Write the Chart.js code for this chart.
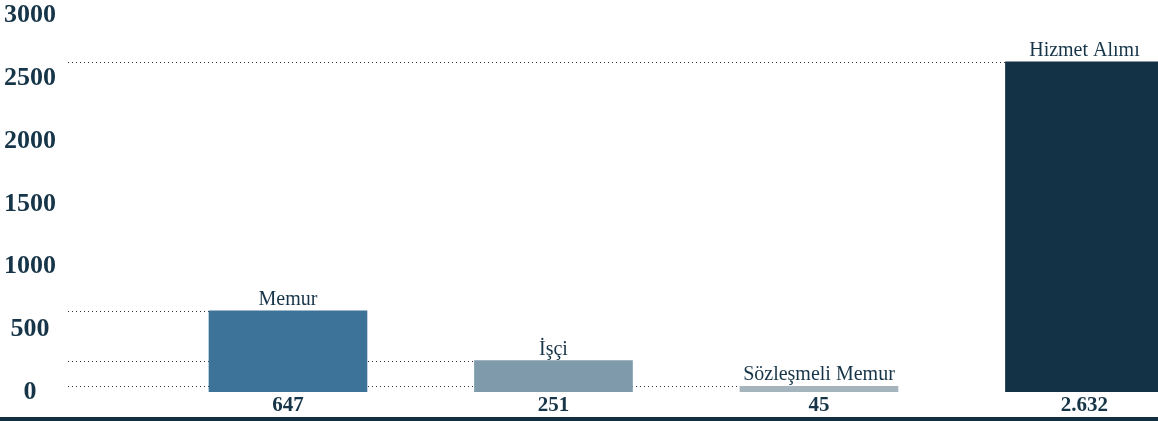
<!DOCTYPE html>
<html>
<head>
<meta charset="utf-8">
<script src="https://cdn.jsdelivr.net/npm/chart.js@4.4.1/dist/chart.umd.min.js"></script>
<style>
  html, body { margin: 0; padding: 0; background: #fff; overflow: hidden; }
  #wrap { width: 1158px; height: 421px; position: relative; }
</style>
</head>
<body>
<div id="wrap"><canvas id="chart"></canvas></div>
<script>
// Data
const categories = ['Memur', 'İşçi', 'Sözleşmeli Memur', 'Hizmet Alımı'];
const values = [647, 251, 45, 2632];
const barColors = ['#3d7398', '#7f9aab', '#a6b4bd', '#133246'];
const yTicks = [0, 500, 1000, 1500, 2000, 2500, 3000];

const TEXT = '#173548';
const SERIF = "'Liberation Serif', 'DejaVu Serif', serif";

function fmt(n) {
    return n.toString().replace(/\B(?=(\d{3})+(?!\d))/g, '.');
}

// dotted guide lines from the left edge to each bar top
const guideLines = {
    id: 'guideLines',
    beforeDatasetsDraw(chart) {
        const ctx = chart.ctx;
        const left = chart.chartArea.left;
        const meta = chart.getDatasetMeta(0);
        ctx.save();
        ctx.strokeStyle = '#333';
        ctx.lineWidth = 1;
        ctx.setLineDash([1, 3]);
        meta.data.forEach(bar => {
            const y = Math.round(bar.y) + 0.5;
            ctx.beginPath();
            ctx.moveTo(left, y);
            ctx.lineTo(bar.x - bar.width / 2, y);
            ctx.stroke();
        });
        ctx.restore();
    }
};

// category names above bars, values below
const barLabels = {
    id: 'barLabels',
    afterDatasetsDraw(chart) {
        const ctx = chart.ctx;
        const meta = chart.getDatasetMeta(0);
        const bottom = chart.chartArea.bottom;
        ctx.save();
        ctx.fillStyle = TEXT;
        ctx.textAlign = 'center';
        meta.data.forEach((bar, i) => {
            ctx.font = '20px ' + SERIF;
            ctx.textBaseline = 'alphabetic';
            ctx.fillText(categories[i], bar.x, bar.y - 6);
            ctx.font = 'bold 21px ' + SERIF;
            ctx.textBaseline = 'middle';
            ctx.fillText(fmt(values[i]), bar.x, bottom + 14);
        });
        // thick baseline at the very bottom
        ctx.fillStyle = '#12303f';
        ctx.fillRect(0, chart.height - 4, chart.width, 4);
        ctx.restore();
    }
};

const ctx = document.getElementById('chart').getContext('2d');
new Chart(ctx, {
    type: 'bar',
    data: {
        datasets: [{
            data: values.map((v, i) => ({ x: i, y: v })),
            backgroundColor: barColors,
            barThickness: 158,
            borderWidth: 0
        }]
    },
    options: {
        responsive: true,
        maintainAspectRatio: false,
        animation: false,
        layout: { padding: { top: 0, bottom: 29, left: 0, right: 0 } },
        plugins: {
            legend: { display: false },
            tooltip: { enabled: false }
        },
        scales: {
            x: {
                type: 'linear',
                offset: false,
                min: -0.8286,
                max: 3.277,
                display: false
            },
            y: {
                min: 0,
                max: 3000,
                afterFit(scale) { scale.width = 68; },
                afterBuildTicks(scale) { scale.ticks = yTicks.map(v => ({ value: v })); },
                grid: { display: false },
                border: { display: false },
                ticks: {
                    crossAlign: 'center',
                    padding: 4,
                    color: TEXT,
                    font: { family: SERIF, size: 26, weight: 'bold', lineHeight: 0.9 },
                    callback: v => String(v)
                }
            }
        }
    },
    plugins: [guideLines, barLabels]
});
</script>
</body>
</html>
